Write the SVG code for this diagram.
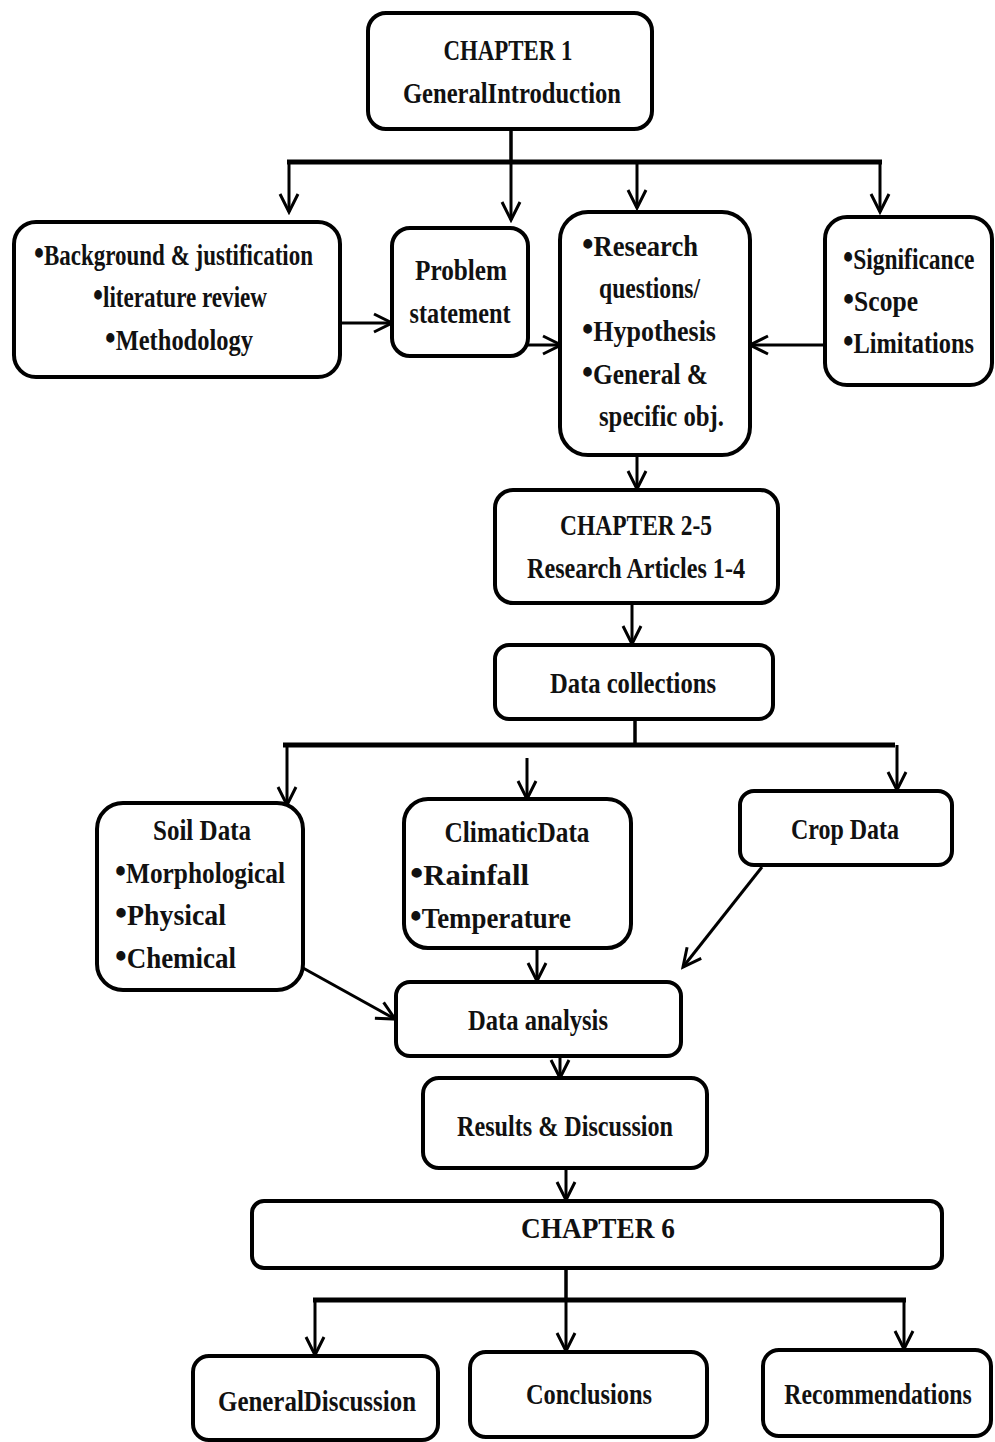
<svg xmlns="http://www.w3.org/2000/svg" width="995" height="1442" viewBox="0 0 995 1442">
<defs>
<marker id="arr" markerUnits="userSpaceOnUse" markerWidth="24" markerHeight="24" viewBox="0 0 24 24" refX="21" refY="12" orient="auto">
<path d="M3,3 L21,12 L3,21" fill="none" stroke="#000" stroke-width="3" stroke-linejoin="miter"/>
</marker>
</defs>
<style>
.box{fill:#fff;stroke:#000;stroke-width:4}
.t{font-family:"Liberation Serif","Times New Roman",serif;font-weight:bold;font-size:29px;fill:#111}
.c{text-anchor:middle}
.b{font-size:36px}
.ln{fill:none;stroke:#000;stroke-width:3.5}
.bus{fill:none;stroke:#000;stroke-width:5}
.ar{fill:none;stroke:#000;stroke-width:3;marker-end:url(#arr)}
</style>
<rect width="995" height="1442" fill="#fff"/>

<g id="connectors">
<line class="ln" x1="511" y1="129" x2="511" y2="162"/>
<line class="bus" x1="287" y1="162" x2="882" y2="162"/>
<line class="ar" x1="289" y1="162" x2="289" y2="212"/>
<line class="ar" x1="511" y1="162" x2="511" y2="220"/>
<line class="ar" x1="637" y1="162" x2="637" y2="208"/>
<line class="ar" x1="880" y1="162" x2="880" y2="212"/>
<line class="ar" x1="340" y1="323" x2="392" y2="323"/>
<line class="ar" x1="528" y1="345" x2="561" y2="345"/>
<line class="ar" x1="825" y1="345" x2="750" y2="345"/>
<line class="ar" x1="637" y1="455" x2="637" y2="489"/>
<line class="ar" x1="632" y1="598" x2="632" y2="644"/>
<line class="ln" x1="635" y1="719" x2="635" y2="745"/>
<line class="bus" x1="283" y1="745" x2="895" y2="745"/>
<line class="ar" x1="287" y1="745" x2="287" y2="805"/>
<line class="ar" x1="527" y1="758" x2="527" y2="799"/>
<line class="ar" x1="897" y1="745" x2="897" y2="790"/>
<line class="ar" x1="537" y1="912" x2="537" y2="981"/>
<line class="ar" x1="303" y1="968" x2="395" y2="1019"/>
<line class="ar" x1="762" y1="867" x2="683" y2="967"/>
<line class="ar" x1="560" y1="1048" x2="560" y2="1078"/>
<line class="ar" x1="566" y1="1145" x2="566" y2="1200"/>
<line class="ln" x1="566" y1="1268" x2="566" y2="1300"/>
<line class="bus" x1="313" y1="1300" x2="906" y2="1300"/>
<line class="ar" x1="315" y1="1300" x2="315" y2="1355"/>
<line class="ar" x1="566" y1="1300" x2="566" y2="1351"/>
<line class="ar" x1="904" y1="1300" x2="904" y2="1349"/>
</g>

<g id="chapter1">
<rect class="box" x="368" y="13" width="284" height="116" rx="18"/>
<text class="t c" x="508" y="60" textLength="129" lengthAdjust="spacingAndGlyphs">CHAPTER 1</text>
<text class="t c" x="512" y="103" textLength="218" lengthAdjust="spacingAndGlyphs">GeneralIntroduction</text>
</g>

<g id="background">
<rect class="box" x="14" y="222" width="326" height="155" rx="22"/>
<text class="t" x="34" y="265" textLength="279" lengthAdjust="spacingAndGlyphs"><tspan class="b">•</tspan>Background &amp; justification</text>
<text class="t" x="93" y="307" textLength="174" lengthAdjust="spacingAndGlyphs"><tspan class="b">•</tspan>literature review</text>
<text class="t" x="105" y="350" textLength="148" lengthAdjust="spacingAndGlyphs"><tspan class="b">•</tspan>Methodology</text>
</g>

<g id="problem">
<rect class="box" x="392" y="228" width="136" height="128" rx="18"/>
<text class="t c" x="461" y="280" textLength="92" lengthAdjust="spacingAndGlyphs">Problem</text>
<text class="t c" x="460" y="323" textLength="101" lengthAdjust="spacingAndGlyphs">statement</text>
</g>

<g id="research">
<rect class="box" x="560" y="212" width="190" height="243" rx="28"/>
<text class="t" x="582" y="256" textLength="116" lengthAdjust="spacingAndGlyphs"><tspan class="b">•</tspan>Research</text>
<text class="t" x="599" y="298" textLength="101" lengthAdjust="spacingAndGlyphs">questions/</text>
<text class="t" x="582" y="341" textLength="134" lengthAdjust="spacingAndGlyphs"><tspan class="b">•</tspan>Hypothesis</text>
<text class="t" x="582" y="384" textLength="126" lengthAdjust="spacingAndGlyphs"><tspan class="b">•</tspan>General &amp;</text>
<text class="t" x="599" y="426" textLength="125" lengthAdjust="spacingAndGlyphs">specific obj.</text>
</g>

<g id="significance">
<rect class="box" x="825" y="217" width="167" height="168" rx="22"/>
<text class="t" transform="matrix(0.81,0,0,1,843,269)"><tspan class="b">•</tspan>Significance</text>
<text class="t" x="843" y="311" textLength="75" lengthAdjust="spacingAndGlyphs"><tspan class="b">•</tspan>Scope</text>
<text class="t" transform="matrix(0.84,0,0,1,843,353)"><tspan class="b">•</tspan>Limitations</text>
</g>

<g id="chapter2-5">
<rect class="box" x="495" y="490" width="283" height="113" rx="18"/>
<text class="t c" x="636" y="535" textLength="152" lengthAdjust="spacingAndGlyphs">CHAPTER 2-5</text>
<text class="t c" x="636" y="578" textLength="218" lengthAdjust="spacingAndGlyphs">Research Articles 1-4</text>
</g>

<g id="data-collections">
<rect class="box" x="495" y="645" width="278" height="74" rx="14"/>
<text class="t c" x="633" y="693" textLength="166" lengthAdjust="spacingAndGlyphs">Data collections</text>
</g>

<g id="soil-data">
<rect class="box" x="97" y="803" width="206" height="187" rx="26"/>
<text class="t c" x="202" y="840" textLength="98" lengthAdjust="spacingAndGlyphs">Soil Data</text>
<text class="t" x="115" y="883" textLength="170" lengthAdjust="spacingAndGlyphs"><tspan class="b">•</tspan>Morphological</text>
<text class="t" x="115" y="925" textLength="111" lengthAdjust="spacingAndGlyphs"><tspan class="b">•</tspan>Physical</text>
<text class="t" x="115" y="968" textLength="121" lengthAdjust="spacingAndGlyphs"><tspan class="b">•</tspan>Chemical</text>
</g>

<g id="climatic-data">
<rect class="box" x="404" y="799" width="227" height="149" rx="24"/>
<text class="t c" x="517" y="842" textLength="145" lengthAdjust="spacingAndGlyphs">ClimaticData</text>
<text class="t" x="410" y="885" textLength="119" lengthAdjust="spacingAndGlyphs"><tspan class="b">•</tspan>Rainfall</text>
<text class="t" x="410" y="928" textLength="161" lengthAdjust="spacingAndGlyphs"><tspan class="b">•</tspan>Temperature</text>
</g>

<g id="crop-data">
<rect class="box" x="740" y="791" width="212" height="74" rx="14"/>
<text class="t c" x="845" y="839" textLength="108" lengthAdjust="spacingAndGlyphs">Crop Data</text>
</g>

<g id="data-analysis">
<rect class="box" x="396" y="982" width="285" height="74" rx="14"/>
<text class="t c" x="538" y="1030" textLength="140" lengthAdjust="spacingAndGlyphs">Data analysis</text>
</g>

<g id="results">
<rect class="box" x="423" y="1078" width="284" height="90" rx="16"/>
<text class="t c" x="565" y="1136" textLength="216" lengthAdjust="spacingAndGlyphs">Results &amp; Discussion</text>
</g>

<g id="chapter6">
<rect class="box" x="252" y="1201" width="690" height="67" rx="12"/>
<text class="t c" x="598" y="1238" textLength="154" lengthAdjust="spacingAndGlyphs">CHAPTER  6</text>
</g>

<g id="general-discussion">
<rect class="box" x="193" y="1356" width="245" height="84" rx="16"/>
<text class="t c" x="317" y="1411" textLength="198" lengthAdjust="spacingAndGlyphs">GeneralDiscussion</text>
</g>

<g id="conclusions">
<rect class="box" x="470" y="1352" width="237" height="85" rx="16"/>
<text class="t c" x="589" y="1404" textLength="126" lengthAdjust="spacingAndGlyphs">Conclusions</text>
</g>

<g id="recommendations">
<rect class="box" x="763" y="1350" width="228" height="86" rx="16"/>
<text class="t c" transform="matrix(0.82,0,0,1,878,1404)">Recommendations</text>
</g>
</svg>
